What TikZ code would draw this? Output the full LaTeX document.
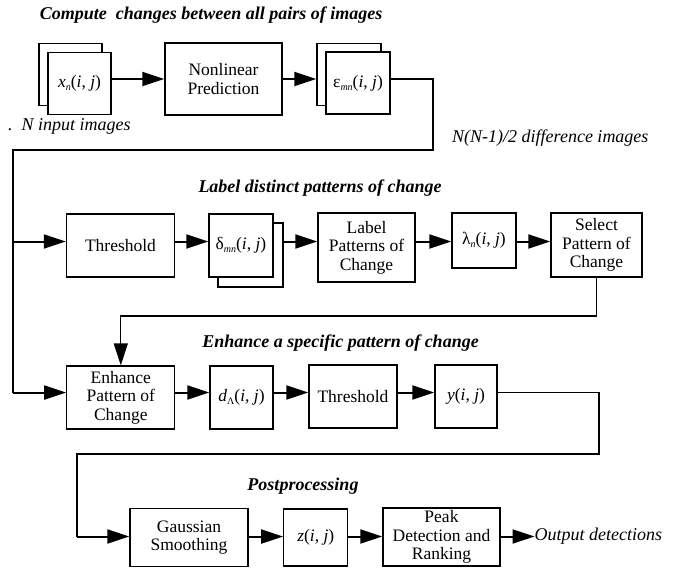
\documentclass[tikz,border=0pt]{standalone}
\usepackage{fontspec}
\setmainfont{Liberation Serif}
\usetikzlibrary{arrows.meta}
\newcommand{\boxfont}{\fontsize{17.5}{18.5}\selectfont}
\newcommand{\headfont}{\fontsize{18}{20}\selectfont\bfseries\itshape}
\newcommand{\lblfont}{\fontsize{18}{20}\selectfont\itshape}
\newcommand{\mysub}[1]{\raisebox{-0.35ex}{\fontsize{10}{10}\selectfont #1}}
\newcommand{\myij}{(\textit{i}, \textit{j})}
\tikzset{
  blk/.style={draw, line width=1.3pt, fill=white, inner sep=0pt, align=center, font=\boxfont},
  tip/.style={-{Triangle[length=22pt,width=14pt]}},
  arr/.style={line width=2pt, tip},
  route/.style={line width=1.3pt},
  head/.style={font=\headfont, inner sep=0pt},
  lbl/.style={font=\lblfont, inner sep=0pt}
}
\begin{document}
\begin{tikzpicture}[x=1pt,y=-1pt]
\useasboundingbox (0,0) rectangle (673,574);
% headings
\node[head] (h1) at (211,15) {Compute\ \ changes between all pairs of images};
\node[head] (h2) at (320,188) {Label distinct patterns of change};
\node[head] (h3) at (340.5,342.7) {Enhance a specific pattern of change};
\node[head] (h4) at (303,485.7) {Postprocessing};
\node[lbl, anchor=west] (nin) at (8,126) {.\ \ \textit{N} input images};
\node[lbl, anchor=west] (ndiff) at (452,138) {N(N-1)/2 difference images};
% helper rows
\coordinate (r1) at (0,79);
\coordinate (r2) at (0,241.5);
\coordinate (r3) at (0,392.5);
\coordinate (r4) at (0,536.5);
% row 1
\node[blk, minimum width=63pt, minimum height=62pt] (xb) at (70.5,74.5) {};
\node[blk, minimum width=63pt, minimum height=62pt] (xf) at (79.5,83.5) {\textit{x}\mysub{\textit{n}}\myij};
\node[blk, minimum width=117pt, minimum height=72pt] (nl) at (223.5,79) {Nonlinear\\Prediction};
\node[blk, minimum width=64pt, minimum height=62pt] (eb) at (349,74.5) {};
\node[blk, minimum width=64pt, minimum height=62pt] (ef) at (358,83) {ε\mysub{\textit{mn}}\myij};
\draw[arr] (xf.east |- r1) -- (nl.west |- r1);
\draw[arr] (nl.east |- r1) -- (eb.west |- r1);
% row 2
\node[blk, minimum width=108pt, minimum height=63pt] (t1) at (120.5,245.5) {Threshold};
\node[blk, minimum width=65pt, minimum height=64pt] (db) at (250.5,255) {};
\node[blk, minimum width=64pt, minimum height=63pt] (df) at (241,245.5) {δ\mysub{\textit{mn}}\myij};
\node[blk, minimum width=97pt, minimum height=69pt] (lab) at (366.5,247.5) {Label\\Patterns of\\Change};
\node[blk, minimum width=64pt, minimum height=55pt] (lam) at (484,240.5) {λ\mysub{\textit{n}}\myij};
\node[blk, minimum width=91pt, minimum height=64pt] (sel) at (596.5,245) {Select\\Pattern of\\Change};
% row 3
\node[blk, minimum width=108pt, minimum height=63pt] (enh) at (120.8,397.5) {Enhance\\Pattern of\\Change};
\node[blk, minimum width=63pt, minimum height=63pt] (dl) at (241.5,397.5) {\textit{d}\mysub{Λ}\myij};
\node[blk, minimum width=88pt, minimum height=63pt] (t2) at (353,396.5) {Threshold};
\node[blk, minimum width=62pt, minimum height=63pt] (yb) at (466,396.5) {\textit{y}\myij};
% row 4
\node[blk, minimum width=118pt, minimum height=58pt] (ga) at (189,537.8) {Gaussian\\Smoothing};
\node[blk, minimum width=64pt, minimum height=57pt] (zb) at (315.8,537.5) {\textit{z}\myij};
\node[blk, minimum width=117pt, minimum height=58pt] (pk) at (441.5,537) {Peak\\Detection and\\Ranking};
\node[lbl, anchor=west] (out) at (534.5,536.5) {Output detections};
% route from row 1
\coordinate (c1) at (433,79);
\coordinate (c2) at (433,150);
\coordinate (c3) at (13,150);
\coordinate (j2) at (13,241.5);
\coordinate (c4) at (13,392.5);
\draw[route] (ef.east |- r1) -- (c1) -- (c2) -- (c3) -- (c4);
\draw[arr] (j2) -- (t1.west |- r2);
\draw[arr] (c4) -- (enh.west |- r3);
% row 2 arrows
\draw[arr] (t1.east |- r2) -- (df.west |- r2);
\draw[arr] (db.east |- r2) -- (lab.west |- r2);
\draw[arr] (lab.east |- r2) -- (lam.west |- r2);
\draw[arr] (lam.east |- r2) -- (sel.west |- r2);
% select -> enhance
\coordinate (c5) at (596.5,316);
\coordinate (c6) at (120.8,316);
\draw[route, tip] (sel.south) -- (c5) -- (c6) -- (enh.north);
% row 3 arrows
\draw[arr] (enh.east |- r3) -- (dl.west |- r3);
\draw[arr] (dl.east |- r3) -- (t2.west |- r3);
\draw[arr] (t2.east |- r3) -- (yb.west |- r3);
% route to row 4
\coordinate (c7) at (599,392.5);
\coordinate (c8) at (599,454);
\coordinate (c9) at (77,454);
\coordinate (c10) at (77,536.5);
\draw[route] (yb.east |- r3) -- (c7) -- (c8) -- (c9) -- (c10);
\draw[arr] (c10) -- (ga.west |- r4);
% row 4 arrows
\draw[arr] (ga.east |- r4) -- (zb.west |- r4);
\draw[arr] (zb.east |- r4) -- (pk.west |- r4);
\draw[arr] (pk.east |- r4) -- (out.west);
\end{tikzpicture}
\end{document}
